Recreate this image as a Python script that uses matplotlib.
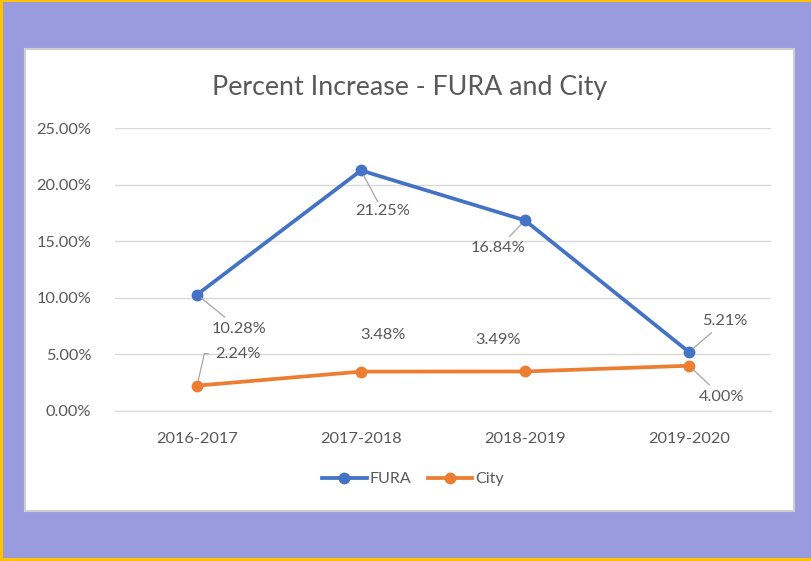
import matplotlib
matplotlib.use("Agg")
import matplotlib.pyplot as plt
from matplotlib.patches import Rectangle
from matplotlib.lines import Line2D
from matplotlib.ticker import PercentFormatter

categories = ["2016-2017", "2017-2018", "2018-2019", "2019-2020"]
fura = [10.28, 21.25, 16.84, 5.21]
city = [2.24, 3.48, 3.49, 4.00]
fura_labels = ["10.28%", "21.25%", "16.84%", "5.21%"]
city_labels = ["2.24%", "3.48%", "3.49%", "4.00%"]

FONT = "Lato"
TXT = "#595959"
BLUE = "#4472C4"
ORANGE = "#ED7D31"

plt.rcParams['font.family'] = [FONT, 'DejaVu Sans']

W, H = 812, 561
fig = plt.figure(figsize=(W / 100, H / 100), dpi=100)
fig.patch.set_facecolor("#9A9ADF")

# yellow frame (left, top, bottom)
fig.patches.append(Rectangle((0, 0), 3 / W, 1, transform=fig.transFigure, facecolor="#FFC000", lw=0, zorder=0))
fig.patches.append(Rectangle((0, 0), 1, 3 / H, transform=fig.transFigure, facecolor="#FFC000", lw=0, zorder=0))
fig.patches.append(Rectangle((0, 1 - 1.5 / H), 1, 1.5 / H, transform=fig.transFigure, facecolor="#FFC000", lw=0, zorder=0))
# white chart panel
fig.patches.append(Rectangle((25 / W, 1 - 511 / H), (794 - 25) / W, (511 - 49) / H,
                             transform=fig.transFigure, facecolor="white",
                             edgecolor="#CFCFCF", lw=1.5, zorder=0.5))

ax = fig.add_axes([115 / W, 1 - 411 / H, (771 - 115) / W, (411 - 128) / H])
ax.set_zorder(2)
ax.set_facecolor("none")
x = list(range(len(categories)))
ax.plot(x, fura, color=BLUE, lw=2.7, marker="o", ms=7.5, label="FURA", zorder=3,
        solid_capstyle="round")
ax.plot(x, city, color=ORANGE, lw=2.7, marker="o", ms=7.5, label="City", zorder=3,
        solid_capstyle="round")

ax.set_xlim(-0.5, 3.5)
ax.set_ylim(0, 25)
ax.set_yticks([0, 5, 10, 15, 20, 25])
ax.yaxis.set_major_formatter(PercentFormatter(decimals=2))
ax.set_xticks(x)
ax.set_xticklabels(categories)
ax.grid(axis="y", color="#D9D9D9", lw=1)
ax.set_axisbelow(True)
for s in ["top", "right", "left"]:
    ax.spines[s].set_visible(False)
ax.spines["bottom"].set_color("#D9D9D9")
ax.tick_params(axis="both", length=0, labelsize=11.8, labelcolor=TXT)
ax.tick_params(axis="x", pad=15)
ax.tick_params(axis="y", pad=17)

fig.text(410 / W, 1 - 87 / H, "Percent Increase - FURA and City", ha="center", va="center",
         fontsize=19.3, color=TXT, zorder=3)

lead = dict(arrowstyle="-", color="#A6A6A6", lw=0.9, shrinkA=2, shrinkB=4)
# offsets in pixels (dx right, dy up)
fura_off = [(42, -34), (22, -41), (-27, -28), (36, 31)]
city_off = [(41, 32), (22, 37), (-27, 31), (33, -31)]
city_lead = [dict(lead, relpos=(0, 0.5), shrinkA=3,
                  connectionstyle="angle,angleA=180,angleB=77,rad=0"),
             None, None, lead]
for i in x:
    ax.annotate(fura_labels[i], (i, fura[i]), xytext=fura_off[i], textcoords="offset pixels",
                ha="center", va="center", fontsize=11.8, color=TXT,
                arrowprops=lead if i != 1 else dict(lead, shrinkA=0))
    ax.annotate(city_labels[i], (i, city[i]), xytext=city_off[i], textcoords="offset pixels",
                ha="center", va="center", fontsize=11.8, color=TXT,
                arrowprops=city_lead[i])

handles = [Line2D([], [], color=BLUE, lw=2.7, marker="o", ms=7.5),
           Line2D([], [], color=ORANGE, lw=2.7, marker="o", ms=7.5)]
leg = fig.legend(handles, ["FURA", "City"], loc="center", bbox_to_anchor=(413 / W, 1 - 479 / H),
                 ncol=2, frameon=False, fontsize=11.5, labelcolor=TXT, handlelength=2.8,
                 handletextpad=0.2, columnspacing=1.0)
leg.set_zorder(3)

fig.savefig("out.png", dpi=100)
